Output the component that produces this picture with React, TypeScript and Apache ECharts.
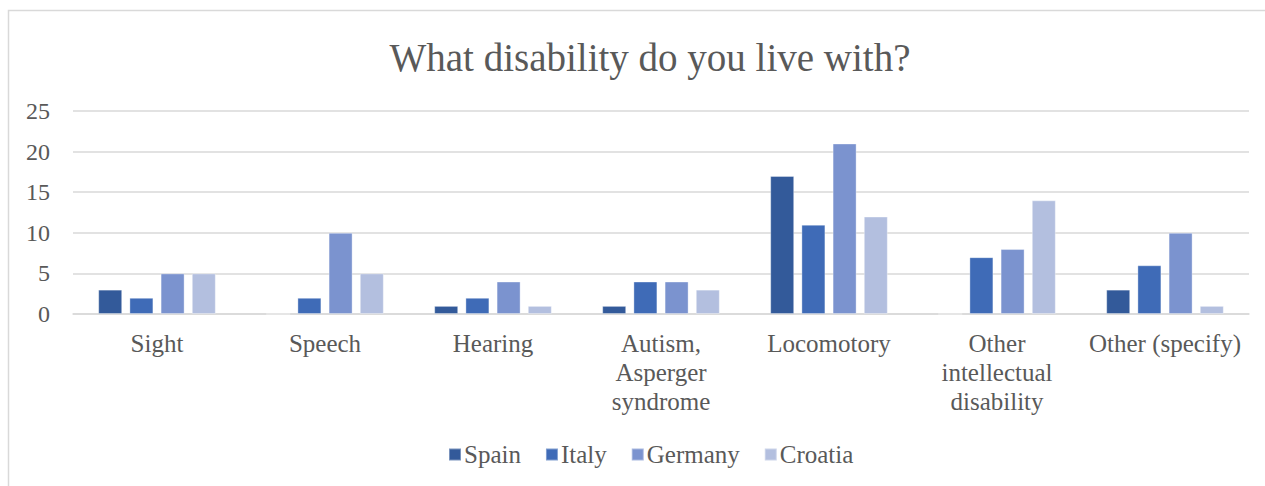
import React, { useEffect, useRef } from "react";
import * as echarts from "echarts";

const categories = [
  "Sight",
  "Speech",
  "Hearing",
  "Autism,\nAsperger\nsyndrome",
  "Locomotory",
  "Other\nintellectual\ndisability",
  "Other (specify)",
];
const spain = [3, 0, 1, 1, 17, 0, 3];
const italy = [2, 2, 2, 4, 11, 7, 6];
const germany = [5, 10, 4, 4, 21, 8, 10];
const croatia = [5, 5, 1, 3, 12, 14, 1];
const seriesNames = ["Spain", "Italy", "Germany", "Croatia"];
const seriesColors = ["#335A9A", "#3F6BB7", "#7B93CF", "#B3BFDF"];

const FONT = "'Liberation Serif', 'Times New Roman', serif";

export default function App() {
  const ref = useRef<HTMLDivElement>(null);
  useEffect(() => {
    if (!ref.current) return;
    const chart = echarts.init(ref.current, undefined, { renderer: "svg" });
    const values = [spain, italy, germany, croatia];
    chart.setOption({
      animation: false,
      backgroundColor: "#ffffff",
      title: {
        text: "What disability do you live with?",
        left: 645,
        textAlign: "center",
        top: 33,
        textStyle: { fontFamily: FONT, fontSize: 39, fontWeight: "normal", color: "#595959" },
      },
      graphic: [
        {
          type: "rect",
          shape: { x: 8.5, y: 10.5, width: 1400, height: 600 },
          style: { fill: "none", stroke: "#d9d9d9", lineWidth: 1.5 },
          silent: true,
        },
      ],
      legend: {
        data: seriesNames,
        top: 437,
        left: 443,
        itemWidth: 12,
        itemHeight: 12,
        itemGap: 24,
        icon: "rect",
        textStyle: { fontFamily: FONT, fontSize: 25, color: "#595959", padding: [0, 0, 0, -2] },
      },
      grid: { left: 73, right: 16, top: 111, bottom: 172, containLabel: false },
      xAxis: {
        type: "category",
        data: categories,
        axisLine: { lineStyle: { color: "#d9d9d9", width: 1.5 } },
        axisTick: { show: false },
        axisLabel: {
          fontFamily: FONT,
          fontSize: 25,
          color: "#595959",
          lineHeight: 29,
          margin: 15,
          interval: 0,
        },
      },
      yAxis: {
        type: "value",
        min: 0,
        max: 25,
        interval: 5,
        axisLine: { show: false },
        axisTick: { show: false },
        splitLine: { lineStyle: { color: "#d9d9d9", width: 1.5 } },
        axisLabel: { fontFamily: FONT, fontSize: 24, color: "#595959", margin: 23 },
      },
      series: seriesNames.map((name, i) => ({
        name,
        type: "bar",
        data: values[i],
        barGap: "30%",
        barCategoryGap: "30%",
        itemStyle: { color: seriesColors[i], borderColor: "rgba(255,255,255,0.35)", borderWidth: 1 },
      })),
    });
    return () => chart.dispose();
  }, []);
  return (
    <div
      ref={ref}
      style={{ position: "fixed", left: 0, top: 0, width: 1265, height: 486 }}
    />
  );
}
